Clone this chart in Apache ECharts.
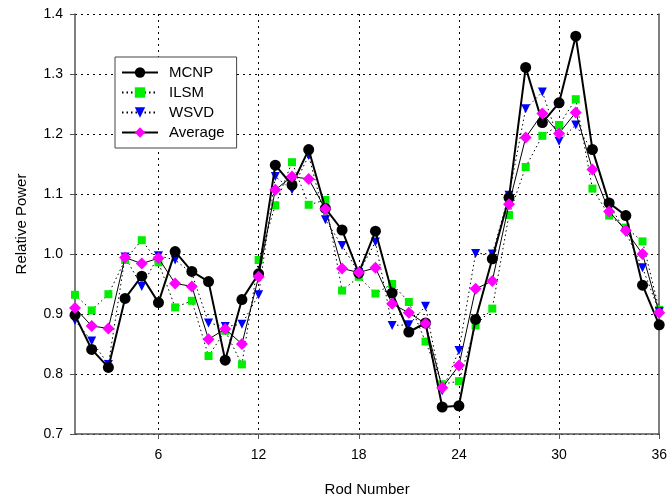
<!DOCTYPE html>
<html>
<head>
<meta charset="utf-8">
<script src="https://cdn.jsdelivr.net/npm/echarts@6/dist/echarts.min.js"></script>
<style>
html, body { margin: 0; padding: 0; background: #fff; }
#chart { width: 670px; height: 502px; }
</style>
</head>
<body>
<div id="chart"></div>
<script>
var rods = [];
for (var i = 1; i <= 36; i++) rods.push(String(i));

var mcnp = [0.898, 0.841, 0.811, 0.926, 0.963, 0.919, 1.004, 0.971, 0.954, 0.823, 0.924, 0.967,
    1.148, 1.115, 1.174, 1.076, 1.040, 0.968, 1.038, 0.935, 0.870, 0.885, 0.745, 0.747,
    0.891, 0.992, 1.094, 1.311, 1.219, 1.252, 1.363, 1.174, 1.085, 1.064, 0.948, 0.882];
var ilsm = [0.932, 0.906, 0.933, 0.990, 1.023, 0.986, 0.911, 0.922, 0.830, 0.872, 0.816, 0.990,
    1.081, 1.153, 1.082, 1.090, 0.939, 0.962, 0.934, 0.950, 0.920, 0.854, 0.783, 0.788,
    0.881, 0.909, 1.065, 1.145, 1.197, 1.215, 1.258, 1.109, 1.064, 1.044, 1.021, 0.907];
var wsvd = [0.889, 0.855, 0.816, 0.995, 0.946, 0.997, 0.990, 0.968, 0.885, 0.879, 0.883, 0.932,
    1.129, 1.107, 1.164, 1.057, 1.014, 0.969, 1.020, 0.881, 0.882, 0.913, 0.772, 0.839,
    1.001, 1.000, 1.098, 1.242, 1.270, 1.188, 1.215, 1.172, 1.083, 1.036, 0.977, 0.904];
var average = [0.910, 0.880, 0.876, 0.994, 0.984, 0.993, 0.951, 0.946, 0.858, 0.875, 0.850, 0.962,
    1.107, 1.129, 1.125, 1.075, 0.976, 0.969, 0.977, 0.917, 0.902, 0.884, 0.777, 0.814,
    0.942, 0.955, 1.083, 1.194, 1.234, 1.201, 1.236, 1.141, 1.071, 1.039, 1.000, 0.902];

var font = 'Liberation Sans, Arial, sans-serif';
function every6(idx) { return (idx + 1) % 6 === 0; }
function gridLine(idx) { return (idx + 1) % 6 === 0 && idx !== 35; }

var option = {
    animation: false,
    textStyle: { fontFamily: font },
    grid: { left: 75, right: 10, top: 14, bottom: 64 },
    legend: {
        left: 115,
        top: 57,
        orient: 'vertical',
        backgroundColor: '#fff',
        borderColor: '#444',
        borderWidth: 1,
        padding: [8, 12, 8, 6],
        itemGap: 5,
        itemWidth: 36,
        itemHeight: 13,
        textStyle: { fontFamily: font, fontSize: 15, color: '#000', padding: [0, 0, 0, 6] },
        data: ['MCNP', 'ILSM', 'WSVD', 'Average']
    },
    xAxis: {
        type: 'category',
        data: rods,
        boundaryGap: false,
        name: 'Rod Number',
        nameLocation: 'middle',
        nameGap: 48,
        nameTextStyle: { fontFamily: font, fontSize: 15, color: '#000' },
        axisLine: { lineStyle: { color: '#555', width: 1.5 } },
        axisTick: { show: true, interval: function (idx) { return every6(idx); }, length: 5, lineStyle: { color: '#555' } },
        axisLabel: { interval: function (idx) { return every6(idx); }, fontSize: 14, color: '#000', margin: 14 },
        splitLine: {
            show: true,
            interval: function (idx) { return gridLine(idx); },
            lineStyle: { color: '#000', type: [2, 4], width: 1 }
        }
    },
    yAxis: [{
        type: 'value',
        min: 0.7,
        max: 1.4,
        interval: 0.1,
        name: 'Relative Power',
        nameLocation: 'middle',
        nameGap: 46,
        nameTextStyle: { fontFamily: font, fontSize: 15, color: '#000' },
        axisLine: { show: true, lineStyle: { color: '#555', width: 1.5 } },
        axisTick: { show: true, inside: false, length: 5, lineStyle: { color: '#555' } },
        axisLabel: {
            fontSize: 14, color: '#000', margin: 12,
            formatter: function (v) { return v.toFixed(1); }
        },
        splitLine: { show: true, lineStyle: { color: '#000', type: [2, 4], width: 1 } }
    }, {
        type: 'value',
        position: 'right',
        min: 0.7,
        max: 1.4,
        interval: 0.1,
        axisLine: { show: true, lineStyle: { color: '#555', width: 1.5 } },
        axisTick: { show: false },
        axisLabel: { show: false },
        splitLine: { show: false }
    }],
    series: [{
        name: 'MCNP',
        type: 'line',
        data: mcnp,
        symbol: 'circle',
        symbolSize: 11,
        showAllSymbol: true,
        z: 4,
        lineStyle: { color: '#000', width: 2 },
        itemStyle: { color: '#000' }
    }, {
        name: 'ILSM',
        type: 'line',
        data: ilsm,
        symbol: 'rect',
        symbolSize: 8,
        showAllSymbol: true,
        z: 3,
        lineStyle: { color: '#000', width: 1, type: [1.5, 3] },
        itemStyle: { color: '#00ee00' }
    }, {
        name: 'WSVD',
        type: 'line',
        data: wsvd,
        symbol: 'triangle',
        symbolRotate: 180,
        symbolSize: 9,
        showAllSymbol: true,
        z: 3,
        lineStyle: { color: '#000', width: 1, type: [1.5, 3] },
        itemStyle: { color: '#0000ff' }
    }, {
        name: 'Average',
        type: 'line',
        data: average,
        symbol: 'diamond',
        symbolSize: 12,
        showAllSymbol: true,
        z: 5,
        lineStyle: { color: '#000', width: 1 },
        itemStyle: { color: '#ff00ff' }
    }]
};

var chart = echarts.init(document.getElementById('chart'));
chart.setOption(option);
</script>
</body>
</html>
